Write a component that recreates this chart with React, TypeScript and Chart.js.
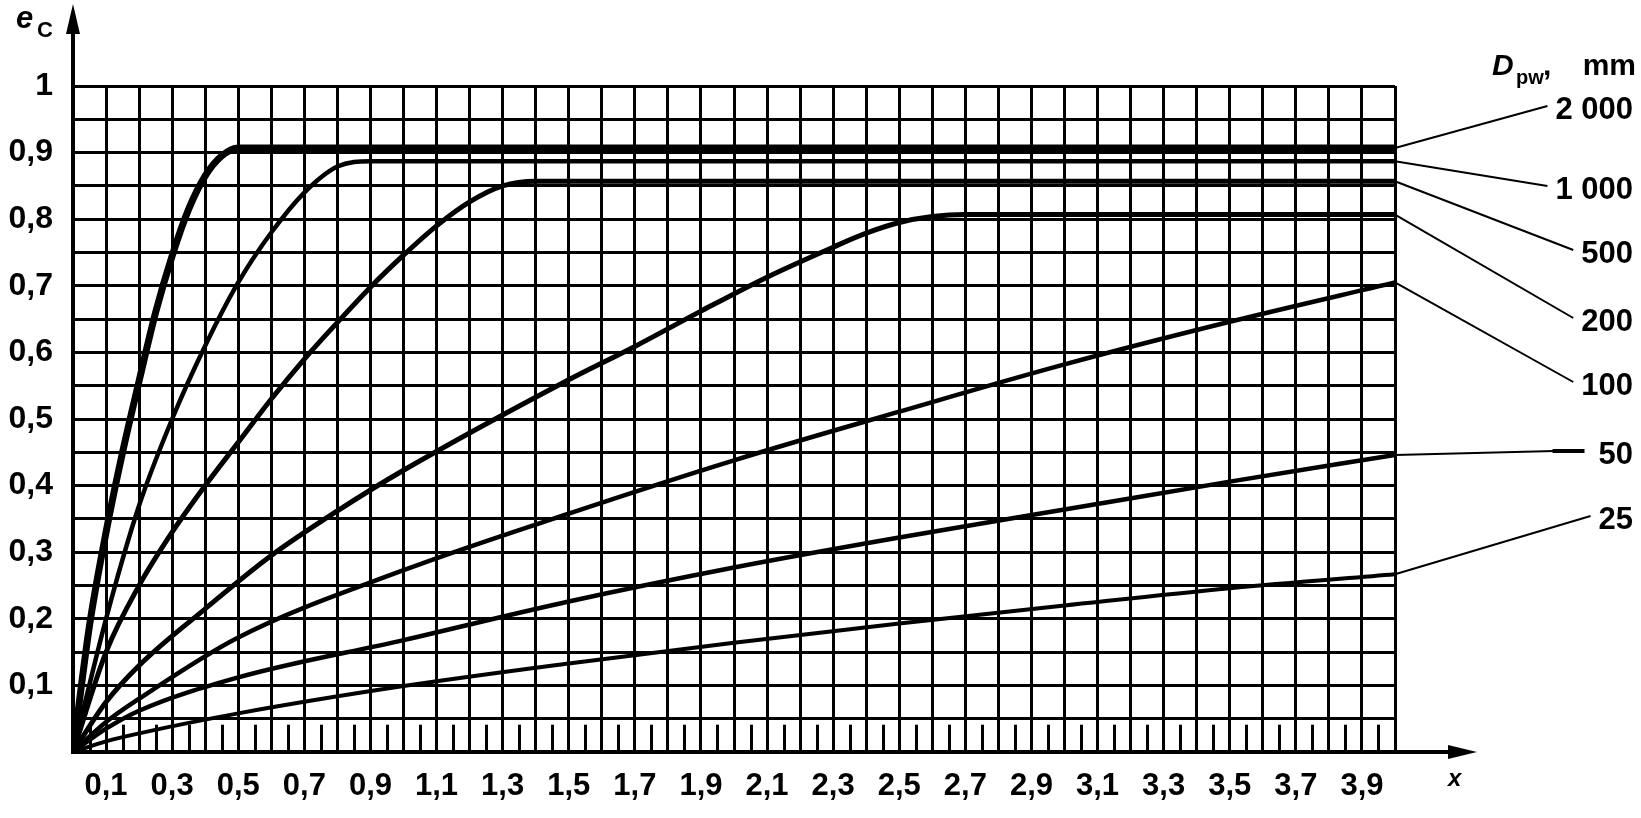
import React, { useEffect, useRef } from 'react';
import { Chart, registerables } from 'chart.js';

Chart.register(...registerables);

// ---- data ----
const seriesNames = ['2 000', '1 000', '500', '200', '100', '50', '25'];

const x2000 = [0, 0.05, 0.1, 0.15, 0.2, 0.25, 0.3, 0.35, 0.4, 0.45, 0.5, 4.0];
const e2000 = [0, 0.19, 0.33, 0.45, 0.557, 0.66, 0.745, 0.815, 0.865, 0.895, 0.907, 0.907];

const x1000 = [0, 0.1, 0.2, 0.3, 0.4, 0.5, 0.6, 0.7, 0.8, 0.9, 4.0];
const e1000 = [0, 0.2, 0.37, 0.5, 0.61, 0.705, 0.78, 0.84, 0.879, 0.887, 0.887];

const x500 = [0, 0.1, 0.2, 0.3, 0.4, 0.5, 0.6, 0.7, 0.8, 0.9, 1.0, 1.1, 1.2, 1.3, 1.4, 4.0];
const e500 = [0, 0.15, 0.25, 0.33, 0.4, 0.465, 0.53, 0.59, 0.645, 0.698, 0.746, 0.79, 0.826, 0.85, 0.857, 0.857];

const x200 = [0, 0.1, 0.2, 0.4, 0.6, 0.8, 1.0, 1.5, 1.7, 1.9, 2.1, 2.3, 2.4, 2.5, 2.6, 2.7, 4.0];
const e200 = [0, 0.075, 0.13, 0.215, 0.295, 0.362, 0.423, 0.559, 0.609, 0.662, 0.713, 0.758, 0.779, 0.795, 0.804, 0.807, 0.807];

const x100 = [0, 0.1, 0.2, 0.5, 1.0, 1.5, 2.0, 2.5, 3.0, 3.5, 4.0];
const e100 = [0, 0.045, 0.08, 0.172, 0.273, 0.358, 0.438, 0.511, 0.582, 0.646, 0.705];

const x50 = [0, 0.1, 0.2, 0.5, 1.0, 1.5, 2.0, 2.5, 3.0, 3.5, 4.0];
const e50 = [0, 0.035, 0.062, 0.112, 0.168, 0.226, 0.277, 0.322, 0.364, 0.406, 0.446];

const x25 = [0, 0.1, 0.2, 0.5, 1.0, 1.5, 2.0, 2.5, 3.0, 3.5, 4.0];
const e25 = [0, 0.016, 0.028, 0.058, 0.099, 0.133, 0.164, 0.193, 0.22, 0.246, 0.267];

const seriesX = [x2000, x1000, x500, x200, x100, x50, x25];
const seriesY = [e2000, e1000, e500, e200, e100, e50, e25];

const xLabelValues = [0.1, 0.3, 0.5, 0.7, 0.9, 1.1, 1.3, 1.5, 1.7, 1.9, 2.1, 2.3, 2.5, 2.7, 2.9, 3.1, 3.3, 3.5, 3.7, 3.9];
const xTickLabels = ['0,1', '0,3', '0,5', '0,7', '0,9', '1,1', '1,3', '1,5', '1,7', '1,9', '2,1', '2,3', '2,5', '2,7', '2,9', '3,1', '3,3', '3,5', '3,7', '3,9'];
const yLabelValues = [0.1, 0.2, 0.3, 0.4, 0.5, 0.6, 0.7, 0.8, 0.9, 1];
const yTickLabels = ['0,1', '0,2', '0,3', '0,4', '0,5', '0,6', '0,7', '0,8', '0,9', '1'];

// ---- styles / layout ----
const FONT = '"Liberation Sans", Arial, sans-serif';
const lineWidths = [7, 4.5, 5, 5, 4.5, 4.5, 4];
const labelCenters = [110, 190, 254, 322, 386, 455, 520];
const labelRight = 1633;

const findLabel = (values: number[], labels: string[], v: number) => {
  const i = values.findIndex((t) => Math.abs(t - v) < 1e-6);
  return i >= 0 ? labels[i] : '';
};

const decorPlugin = {
  id: 'decor',
  afterDraw(chart: any) {
    const ctx = chart.ctx;
    const xs = chart.scales.x;
    const ys = chart.scales.y;
    const left = xs.getPixelForValue(0);
    const right = xs.getPixelForValue(4);
    const bottom = ys.getPixelForValue(0);
    const top = ys.getPixelForValue(1);
    ctx.save();
    ctx.strokeStyle = '#000';
    ctx.fillStyle = '#000';

    // minor ticks in bottom row
    ctx.lineWidth = 3;
    const yMinor = ys.getPixelForValue(0.041);
    for (let k = 0; k < 40; k++) {
      const px = Math.round(xs.getPixelForValue(k * 0.1 + 0.05)) + 0.5;
      ctx.beginPath();
      ctx.moveTo(px, bottom);
      ctx.lineTo(px, yMinor);
      ctx.stroke();
    }

    // y axis extension + arrow
    ctx.lineWidth = 4;
    ctx.beginPath();
    ctx.moveTo(left, top);
    ctx.lineTo(left, 28);
    ctx.stroke();
    ctx.beginPath();
    ctx.moveTo(left - 7, 34);
    ctx.lineTo(left + 7, 34);
    ctx.lineTo(left, 4);
    ctx.closePath();
    ctx.fill();

    // x axis extension + arrow
    ctx.beginPath();
    ctx.moveTo(right, bottom);
    ctx.lineTo(1455, bottom);
    ctx.stroke();
    ctx.beginPath();
    ctx.moveTo(1448, bottom - 7);
    ctx.lineTo(1448, bottom + 7);
    ctx.lineTo(1477, bottom);
    ctx.closePath();
    ctx.fill();

    // axis titles
    ctx.textBaseline = 'alphabetic';
    ctx.textAlign = 'left';
    ctx.font = `bold italic 31px ${FONT}`;
    ctx.fillText('e', 16, 28);
    ctx.font = `bold 22px ${FONT}`;
    ctx.fillText('C', 37, 37);
    ctx.font = `bold italic 24px ${FONT}`;
    ctx.fillText('x', 1448, 786);

    // legend header D_pw, mm
    ctx.font = `bold italic 30px ${FONT}`;
    ctx.fillText('D', 1492, 75);
    ctx.font = `bold 20px ${FONT}`;
    ctx.fillText('pw', 1516, 84);
    ctx.font = `bold 30px ${FONT}`;
    ctx.fillText(',', 1543, 75);
    ctx.textAlign = 'right';
    ctx.fillText('mm', 1636, 75);

    // series labels + leader lines
    ctx.font = `bold 31px ${FONT}`;
    ctx.textBaseline = 'middle';
    ctx.textAlign = 'right';
    chart.data.datasets.forEach((ds: any, i: number) => {
      const meta = chart.getDatasetMeta(i);
      const last = meta.data[meta.data.length - 1];
      const name = seriesNames[i];
      const w = ctx.measureText(name).width;
      const cy = labelCenters[i];
      const ex = labelRight - w - 8;
      const ey = cy - 4;
      ctx.lineWidth = 2;
      ctx.beginPath();
      if (i === 5) {
        ctx.moveTo(last.x, last.y);
        ctx.lineTo(ex - 36, ey);
        ctx.stroke();
        ctx.lineWidth = 4;
        ctx.beginPath();
        ctx.moveTo(ex - 38, ey);
        ctx.lineTo(ex - 6, ey);
        ctx.stroke();
      } else {
        ctx.moveTo(last.x, last.y);
        ctx.lineTo(ex, ey);
        ctx.stroke();
      }
      ctx.fillText(name, labelRight, cy);
    });
    ctx.restore();
  },
};

export default function App() {
  const ref = useRef<HTMLCanvasElement | null>(null);
  useEffect(() => {
    if (!ref.current) return;
    const chart = new Chart(ref.current, {
      type: 'line',
      data: {
        datasets: seriesNames.map((name, i) => ({
          label: name,
          data: seriesX[i].map((x, j) => ({ x, y: seriesY[i][j] })),
          borderColor: '#000',
          backgroundColor: '#000',
          borderWidth: lineWidths[i],
          pointRadius: 0,
          fill: false,
          cubicInterpolationMode: 'monotone' as const,
        })),
      },
      options: {
        animation: false,
        responsive: false,
        layout: { padding: { top: 86, right: 246, left: 0, bottom: 0 } },
        plugins: { legend: { display: false }, tooltip: { enabled: false } },
        scales: {
          x: {
            type: 'linear',
            min: 0,
            max: 4,
            afterFit: (s: any) => {
              s.height = 66;
            },
            ticks: {
              stepSize: 0.1,
              autoSkip: false,
              maxRotation: 0,
              minRotation: 0,
              padding: 16,
              color: '#000',
              font: { family: FONT, size: 31, weight: 'bold' },
              callback: (v: any) => findLabel(xLabelValues, xTickLabels, Number(v)),
            },
            grid: { color: '#000', lineWidth: 3, drawTicks: false },
            border: { color: '#000', width: 4 },
          },
          y: {
            type: 'linear',
            min: 0,
            max: 1,
            afterFit: (s: any) => {
              s.width = 73;
            },
            ticks: {
              stepSize: 0.05,
              autoSkip: false,
              padding: 20,
              color: '#000',
              font: { family: FONT, size: 32, weight: 'bold' },
              callback: (v: any) => findLabel(yLabelValues, yTickLabels, Number(v)),
            },
            grid: { color: '#000', lineWidth: 3, drawTicks: false },
            border: { color: '#000', width: 4 },
          },
        },
      },
      plugins: [decorPlugin],
    });
    return () => chart.destroy();
  }, []);
  return (
    <div style={{ position: 'fixed', left: 0, top: 0, width: 1641, height: 818, background: '#fff' }}>
      <canvas ref={ref} width={1641} height={818} style={{ display: 'block' }} />
    </div>
  );
}
